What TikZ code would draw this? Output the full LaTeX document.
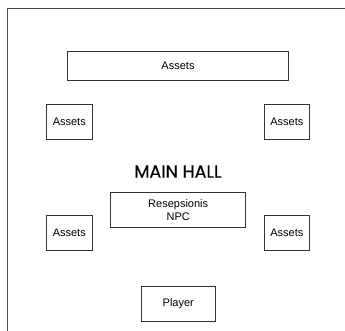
\documentclass[tikz,border=0pt]{standalone}
\usepackage{fontspec}
\setmainfont{Liberation Sans}
\newfontfamily\titlefont[FakeBold=0.4]{Poppins}
\begin{document}
\begin{tikzpicture}[x=1pt,y=-1pt,
  box/.style={draw=black!80, line width=0.7pt, inner sep=0pt, font=\fontsize{11}{12.5}\selectfont, align=center}]
\useasboundingbox (0,0) rectangle (345,331);
\fill[white] (0,0) rectangle (345,331);
\draw[black!70, line width=0.7pt] (7,8) -- (348,8);
\draw[black!70, line width=0.7pt] (7,8) -- (7,334);
\node[box, minimum width=220.6pt, minimum height=28.6pt] (top) at (178,66) {Assets};
\node[box, minimum width=46pt, minimum height=34.7pt] (ul) at (69.3,121.7) {Assets};
\node[box, minimum width=45.7pt, minimum height=34.7pt] (ur) at (286.8,121.7) {Assets};
\node[font=\titlefont\fontsize{17.5}{20}\selectfont] (title) at (178,171.5) {MAIN HALL};
\node[box, minimum width=135pt, minimum height=35.4pt] (npc) at (178.2,210) {Resepsionis\\NPC};
\node[box, minimum width=46pt, minimum height=35pt] (ll) at (69.3,233.2) {Assets};
\node[box, minimum width=45.7pt, minimum height=35pt] (lr) at (286.8,233.2) {Assets};
\node[box, minimum width=73.3pt, minimum height=35.3pt] (player) at (178.3,303.7) {Player};
\end{tikzpicture}
\end{document}
